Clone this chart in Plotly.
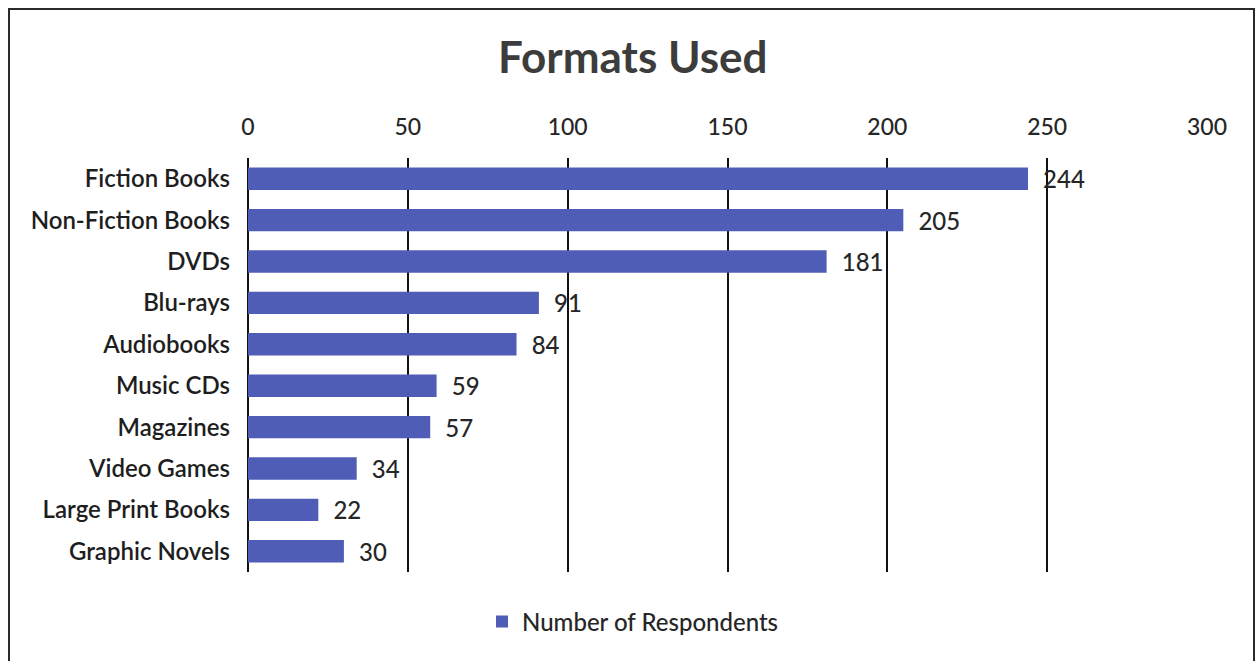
import plotly.graph_objects as go

# Survey data: formats used by library patrons
formats = [
    "Fiction Books", "Non-Fiction Books", "DVDs", "Blu-rays", "Audiobooks",
    "Music CDs", "Magazines", "Video Games", "Large Print Books", "Graphic Novels",
]
respondents = [244, 205, 181, 91, 84, 59, 57, 34, 22, 30]
x_ticks = [0, 50, 100, 150, 200, 250, 300]

W, H = 1258, 661
BAR_COLOR = "#4F5DB6"
TEXT_COLOR = "#262626"
FONT = "Lato, Carlito, Calibri, sans-serif"

fig = go.Figure(
    go.Bar(
        x=respondents,
        y=formats,
        orientation="h",
        name="Number of Respondents",
        marker=dict(color=BAR_COLOR, line=dict(width=0)),
        width=0.54,
        text=[str(v) for v in respondents],
        texttemplate="  %{text}",
        textposition="outside",
        constraintext="none",
        textfont=dict(family=FONT, size=24, color=TEXT_COLOR, weight=500),
        cliponaxis=False,
    )
)

fig.update_layout(
    width=W,
    height=H,
    margin=dict(l=248, r=51, t=158, b=89),
    paper_bgcolor="white",
    plot_bgcolor="rgba(0,0,0,0)",
    font=dict(family=FONT, color=TEXT_COLOR),
    title=dict(
        text="<b>Formats Used</b>",
        x=0.503,
        xanchor="center",
        y=1 - 58 / H,
        yanchor="middle",
        font=dict(family=FONT, size=44, color="#3C3C3C"),
    ),
    showlegend=True,
    legend=dict(
        orientation="h",
        x=(633 - 248) / (W - 248 - 51),
        xanchor="center",
        y=-(622 - 572) / (572 - 158),
        yanchor="middle",
        font=dict(family=FONT, size=24, color=TEXT_COLOR, weight=500),
        itemsizing="constant",
        itemwidth=30,
    ),
    bargap=0.46,
)

fig.update_xaxes(
    range=[0, 300],
    tickvals=x_ticks,
    side="top",
    showgrid=True,
    gridcolor="#111111",
    gridwidth=2,
    zeroline=True,
    zerolinecolor="#111111",
    zerolinewidth=2,
    showline=False,
    ticks="",
    ticklabelstandoff=17,
    tickfont=dict(family=FONT, size=23, color=TEXT_COLOR, weight=500),
)

fig.update_yaxes(
    categoryorder="array",
    categoryarray=formats,
    autorange="reversed",
    showgrid=False,
    zeroline=False,
    showline=False,
    ticks="",
    ticklabelstandoff=17,
    tickfont=dict(family=FONT, size=24, color="#1E1E1E", weight=600),
)

# Outer frame around the chart
fig.add_shape(
    type="rect",
    xref="paper", yref="paper",
    x0=-(248 - 9) / (W - 248 - 51),
    x1=1 + (1254 - 1207) / (W - 248 - 51),
    y0=-(665 - 572) / (572 - 158),
    y1=1 + (158 - 9) / (572 - 158),
    line=dict(color="#2A2A2A", width=2),
    fillcolor="rgba(0,0,0,0)",
    layer="below",
)

fig.write_html("out.html")
